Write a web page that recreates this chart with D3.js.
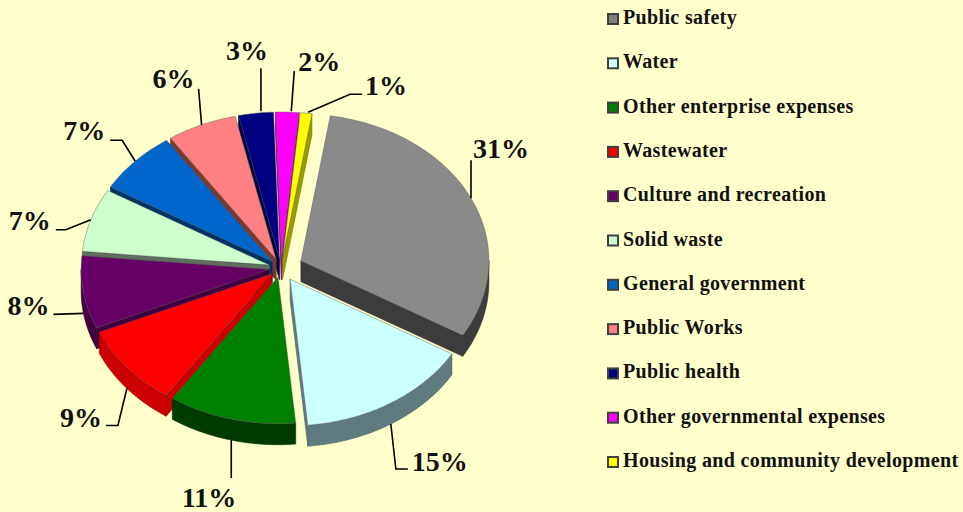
<!DOCTYPE html>
<html>
<head>
<meta charset="utf-8">
<script src="https://cdn.jsdelivr.net/npm/d3@7"></script>
<style>
  body { margin: 0; background: #FFFFCC; }
  text { font-family: "Liberation Serif", "Times New Roman", serif; font-weight: bold; fill: #111; }
</style>
</head>
<body>
<div id="chart"></div>
<script>
// Data
const categories = [
  "Public safety", "Water", "Other enterprise expenses", "Wastewater",
  "Culture and recreation", "Solid waste", "General government", "Public Works",
  "Public health", "Other governmental expenses", "Housing and community development"
];
const shares = [31, 15, 11, 9, 8, 7, 7, 6, 3, 2, 1];
const pctLabels = ["31%", "15%", "11%", "9%", "8%", "7%", "7%", "6%", "3%", "2%", "1%"];

// Styles
const topColors = ["#8a8a8a", "#ccffff", "#008000", "#ff0000", "#660066", "#ccffcc",
  "#0066cc", "#ff8080", "#000080", "#ff00ff", "#ffff00"];
const sideColors = ["#3c3c3c", "#5f7b80", "#003c00", "#cc0000", "#420042", "#5f6e5f",
  "#003366", "#7a3a30", "#000040", "#990099", "#999900"];
const legendColors = ["#808080", "#ccffff", "#008000", "#ff0000", "#660066", "#ccffcc",
  "#0066cc", "#ff8080", "#000080", "#ff00ff", "#ffff00"];
const explode = [22, 17, 12, 12, 12, 12, 12, 12, 12, 12, 12];

// Leader lines (offsets from the slice edge anchor) and label placement
const labelLayout = [
  { path: [[0, 0], [0, -38]], text: [2, -40, "start"] },
  { path: [[0, 0], [5, 45], [17, 45]], text: [21, 47, "start"] },
  { path: [[0, 0], [0, 38]], text: [5, 67, "end"] },
  { path: [[0, 0], [-9, 37], [-21, 37]], text: [-25, 39, "end"] },
  { path: [[0, 0], [-30, 1]], text: [-34, 2, "end"] },
  { path: [[0, 0], [-25, 10], [-35, 10]], text: [-40, 10, "end"] },
  { path: [[0, 0], [-13, -21], [-25, -21]], text: [-30, -21, "end"] },
  { path: [[0, 0], [-3, -36]], text: [-7, -37, "end"] },
  { path: [[5, -2], [5, -45]], text: [-9, -53, "middle"] },
  { path: [[4, -1], [7, -41]], text: [11, -41, "start"] },
  { path: [[2, -1], [44, -19], [56, -19]], text: [59, -18, "start"] }
];

const W = 963, H = 512;
const cx = 281, cy = 268, R = 188, tilt = 0.78, depth = 21;
const rot = 9 * Math.PI / 180;

const svg = d3.select("#chart").append("svg")
  .attr("width", W).attr("height", H);

svg.append("rect").attr("width", W).attr("height", H).attr("fill", "#FFFFCC");

const colour = d3.scaleOrdinal(categories, topColors);
const side = d3.scaleOrdinal(categories, sideColors);

const pie = d3.pie().value(d => d.v).sort(null)
  .startAngle(rot).endAngle(rot + 2 * Math.PI);

const slices = pie(categories.map((c, i) => ({ c, v: shares[i], i })));

// project a point on the tilted disc
function proj(a, r, z, o) {
  return [cx + o[0] + r * Math.sin(a), cy + o[1] - r * Math.cos(a) * tilt + z];
}
function arcPts(a0, a1, r, z, o) {
  const n = Math.max(2, Math.ceil((a1 - a0) / (Math.PI / 180)));
  return d3.range(n + 1).map(j => proj(a0 + (a1 - a0) * j / n, r, z, o));
}
const line = d3.line();

slices.forEach(d => {
  d.mid = (d.startAngle + d.endAngle) / 2;
  const e = explode[d.data.i];
  d.off = [e * Math.sin(d.mid), -e * Math.cos(d.mid) * tilt];
});

// walls, back to front
const walls = svg.append("g");
slices.slice().sort((a, b) => -Math.cos(a.mid) - -Math.cos(b.mid)).forEach(d => {
  const a0 = d.startAngle, a1 = d.endAngle, o = d.off, c = d.data.c;
  const g = walls.append("g").attr("fill", side(c))
    .attr("stroke", d3.color(side(c)).darker(0.6)).attr("stroke-width", 0.6);
  const radial = a => [proj(a, 0, 0, o), proj(a, R, 0, o), proj(a, R, depth, o), proj(a, 0, depth, o)];
  if (Math.sin(a0) < 0) g.append("path").attr("d", line(radial(a0)) + "Z");
  if (Math.sin(a1) > 0) g.append("path").attr("d", line(radial(a1)) + "Z");
  const lo = Math.max(a0, Math.PI / 2), hi = Math.min(a1, 3 * Math.PI / 2);
  if (hi > lo) {
    const pts = arcPts(lo, hi, R, 0, o).concat(arcPts(lo, hi, R, depth, o).reverse());
    g.append("path").attr("d", line(pts) + "Z");
  }
});

// top faces
svg.append("g").selectAll("path")
  .data(slices)
  .join("path")
  .attr("d", d => line([proj(0, 0, 0, d.off)].concat(arcPts(d.startAngle, d.endAngle, R, 0, d.off))) + "Z")
  .attr("fill", d => colour(d.data.c))
  .attr("stroke", "#555")
  .attr("stroke-opacity", 0.6)
  .attr("stroke-width", 0.7);

// percentage labels with leader lines
const lab = svg.append("g");
slices.forEach(d => {
  const i = d.data.i, L = labelLayout[i];
  const front = Math.cos(d.mid) < 0 ? depth : 0;
  const anc = proj(d.mid, R, front, d.off);
  lab.append("path")
    .attr("d", line(L.path.map(p => [anc[0] + p[0], anc[1] + p[1]])))
    .attr("fill", "none").attr("stroke", "#000").attr("stroke-width", 1.6);
  lab.append("text")
    .attr("x", anc[0] + L.text[0]).attr("y", anc[1] + L.text[1])
    .attr("text-anchor", L.text[2])
    .style("font-size", "28px")
    .text(pctLabels[i]);
});

// legend
const ly = d3.scalePoint(categories, [24, 467]);
const leg = svg.append("g").selectAll("g")
  .data(categories)
  .join("g")
  .attr("transform", c => `translate(0,${ly(c)})`);
leg.append("rect")
  .attr("x", 608).attr("y", -10).attr("width", 10).attr("height", 10)
  .attr("fill", (c, i) => legendColors[i])
  .attr("stroke", "#404040").attr("stroke-width", 2);
leg.append("text")
  .attr("x", 623).attr("y", 0)
  .style("font-size", "20px")
  .style("letter-spacing", "0.35px")
  .text(c => c);
</script>
</body>
</html>
